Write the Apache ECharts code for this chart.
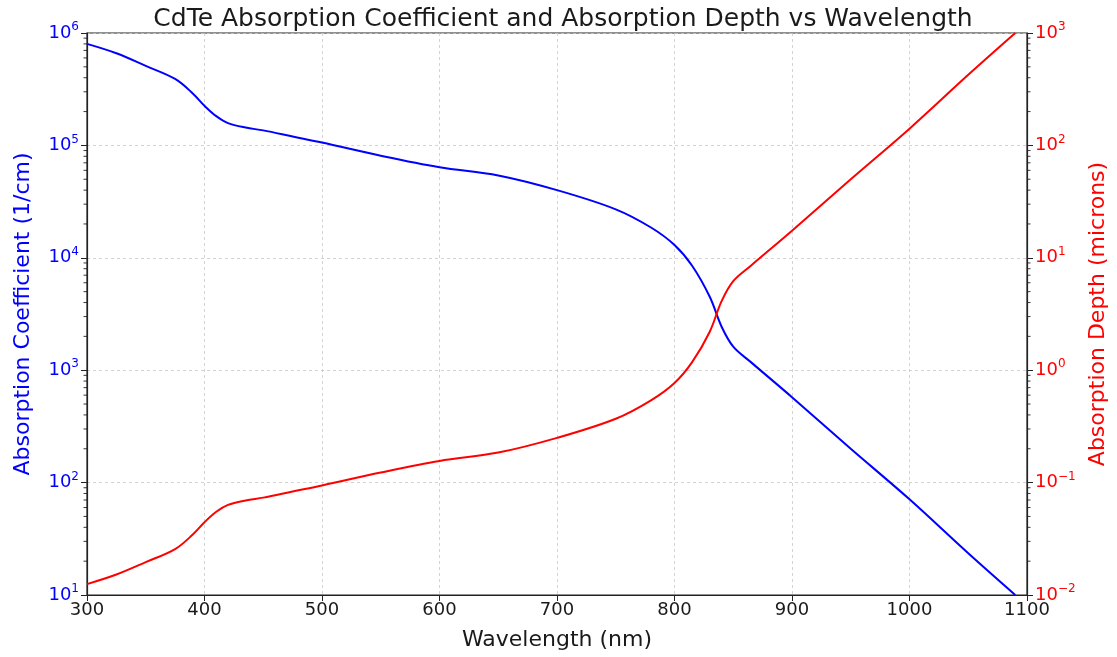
<!DOCTYPE html>
<html>
<head>
<meta charset="utf-8">
<script src="https://cdn.jsdelivr.net/npm/echarts@6/dist/echarts.min.js"></script>
<style>html,body{margin:0;padding:0;background:#fff}#c{width:1117px;height:657px}</style>
</head>
<body>
<div id="c"></div>
<script>
const wavelengths = [300,325,350,375,390,400,410,420,435,450,475,500,550,600,650,700,750,780,800,815,830,840,850,865,900,950,1000,1050,1090];
const absorptionCoeff = [800000,660000,510000,390000,290000,225000,182000,158000,144000,136000,120000,106000,81000,64000,54000,40000,27000,18600,13000,8500,4500,2450,1620,1180,575,200,71,23.5,10];
const absorptionDepth = [0.0125,0.0152,0.0196,0.0256,0.0345,0.0444,0.055,0.0633,0.0694,0.0735,0.0833,0.0943,0.123,0.156,0.185,0.25,0.37,0.54,0.77,1.18,2.2,4.1,6.2,8.5,17.4,50,141,425,1000];
const xTicks = [300,400,500,600,700,800,900,1000,1100];
const leftDecades = [10,100,1000,10000,100000];
const rightDecades = [0.01,0.1,1,10,100];
const minorMultipliers = [2,3,4,5,6,7,8,9];

const FONT = 'DejaVu Sans';
function supLabel(v){
  const e = Math.round(Math.log10(v));
  const s = e < 0 ? '\u2212' + (-e) : String(e);
  return '10{sup|' + s + '}';
}
const leftMinor = [], rightMinor = [];
leftDecades.forEach(d => minorMultipliers.forEach(m => leftMinor.push([xTicks[0], d*m])));
rightDecades.forEach(d => minorMultipliers.forEach(m => rightMinor.push([xTicks[xTicks.length-1], d*m])));

function minorTickRenderer(dir){
  return function(params, api){
    const p = api.coord([api.value(0), api.value(1)]);
    return {type:'line', shape:{x1:p[0], y1:p[1], x2:p[0] + dir*3.5, y2:p[1]},
      style:{stroke:'#222', lineWidth:0.9}, silent:true};
  };
}

const chart = echarts.init(document.getElementById('c'), null, {renderer:'canvas'});
chart.setOption({
  animation:false,
  backgroundColor:'#fff',
  title:{text:'CdTe Absorption Coefficient and Absorption Depth vs Wavelength', left:558, textAlign:'center', top:2,
    textStyle:{fontFamily:FONT, fontSize:25, fontWeight:'normal', color:'#1a1a1a'}},
  grid:{left:87, right:88, top:33, bottom:62, show:true, borderColor:'#222', borderWidth:1.2, backgroundColor:'transparent'},
  xAxis:{type:'value', min:xTicks[0], max:xTicks[xTicks.length-1], interval:100,
    name:'Wavelength (nm)', nameLocation:'middle', nameGap:34,
    nameTextStyle:{fontFamily:FONT, fontSize:22, color:'#1a1a1a'},
    axisLine:{lineStyle:{color:'#222', width:1.2}},
    axisTick:{show:true, length:6, lineStyle:{color:'#222'}},
    axisLabel:{fontFamily:FONT, fontSize:18, color:'#1a1a1a', margin:6, formatter:v=>String(v)},
    splitLine:{show:true, lineStyle:{color:'#c8c8c8', type:[3,3], width:0.8}}},
  yAxis:[
    {type:'log', logBase:10, min:10, max:1000000, interval:1, position:'left',
     name:'Absorption Coefficient (1/cm)', nameLocation:'middle', nameGap:53,
     nameTextStyle:{fontFamily:FONT, fontSize:22, color:'#0000ff'},
     axisLine:{show:true, lineStyle:{color:'#222', width:1.2}},
     axisTick:{show:true, length:6, lineStyle:{color:'#222'}},
     axisLabel:{fontFamily:FONT, fontSize:18, color:'#0000ff', margin:8, formatter:supLabel,
       rich:{sup:{fontFamily:FONT, fontSize:12, color:'#0000ff', padding:[0,0,12,0]}}},
     splitLine:{show:true, lineStyle:{color:'#c8c8c8', type:[3,3], width:0.8}}},
    {type:'log', logBase:10, min:0.01, max:1000, interval:1, position:'right',
     name:'Absorption Depth (microns)', nameLocation:'middle', nameGap:60,
     nameTextStyle:{fontFamily:FONT, fontSize:22, color:'#ff0000'},
     axisLine:{show:true, lineStyle:{color:'#222', width:1.2}},
     axisTick:{show:true, length:6, lineStyle:{color:'#222'}},
     axisLabel:{fontFamily:FONT, fontSize:18, color:'#ff0000', margin:8, formatter:supLabel,
       rich:{sup:{fontFamily:FONT, fontSize:12, color:'#ff0000', padding:[0,0,12,0]}}},
     splitLine:{show:false}}
  ],
  series:[
    {type:'line', yAxisIndex:0, smooth:0.35, showSymbol:false, data:wavelengths.map((w,i)=>[w,absorptionCoeff[i]]),
     lineStyle:{color:'#0000ff', width:2}, itemStyle:{color:'#0000ff'}, z:3},
    {type:'line', yAxisIndex:1, smooth:0.35, showSymbol:false, data:wavelengths.map((w,i)=>[w,absorptionDepth[i]]),
     lineStyle:{color:'#ff0000', width:2}, itemStyle:{color:'#ff0000'}, z:3},
    {type:'custom', yAxisIndex:0, clip:false, silent:true, renderItem:minorTickRenderer(-1), data:leftMinor, z:2},
    {type:'custom', yAxisIndex:1, clip:false, silent:true, renderItem:minorTickRenderer(1), data:rightMinor, z:2}
  ]
});
</script>
</body>
</html>
